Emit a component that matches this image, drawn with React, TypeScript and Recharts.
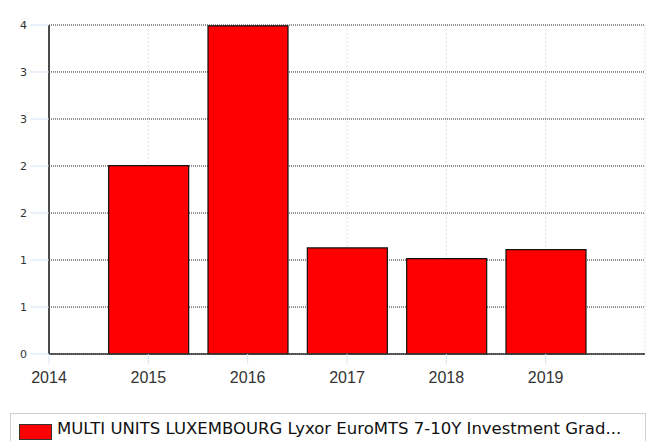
import React from "react";
import { Bar, BarChart, CartesianGrid, XAxis, YAxis } from "recharts";

const years = [2015, 2016, 2017, 2018, 2019];
const values = [2.29, 3.99, 1.29, 1.16, 1.27];
const xTicks = [2014, 2015, 2016, 2017, 2018, 2019];
const yTicks = [0, 0.571, 1.143, 1.714, 2.286, 2.857, 3.429, 4];
const yTickLabels = ["0", "1", "1", "2", "2", "3", "3", "4"];
const seriesName = "MULTI UNITS LUXEMBOURG Lyxor EuroMTS 7-10Y Investment Grad...";

const data = years.map((year, i) => ({ year, value: values[i] }));

const App = () => {
    return (
        <div style={{ position: "absolute", left: 0, top: 0, width: 652, height: 441, background: "#fff" }}>
            <BarChart
                width={652}
                height={441}
                data={data}
                margin={{ top: 25, right: 7, left: 0, bottom: 51 }}
            >
                <CartesianGrid horizontal={false} stroke="#d6e4f5" strokeDasharray="2 2" />
                <CartesianGrid vertical={false} stroke="#222" strokeDasharray="1 1" />
                <XAxis
                    dataKey="year"
                    type="number"
                    domain={[2014, 2020]}
                    ticks={xTicks}
                    interval={0}
                    height={36}
                    tickSize={10}
                    tickMargin={8}
                    tickLine={{ stroke: "#d6e4f5" }}
                    axisLine={{ stroke: "#333", strokeWidth: 1.5 }}
                    tick={{ fill: "#333", fontSize: 16, fontFamily: "Liberation Sans, Arial" }}
                />
                <YAxis
                    type="number"
                    domain={[0, 4]}
                    ticks={yTicks}
                    interval={0}
                    width={49}
                    tickSize={19}
                    tickMargin={3}
                    tickLine={{ stroke: "#d6e4f5" }}
                    axisLine={{ stroke: "#111", strokeWidth: 1.5 }}
                    tick={{ fill: "#333", fontSize: 11, fontFamily: "DejaVu Sans, Tahoma" }}
                    tickFormatter={(v, i) => yTickLabels[i]}
                />
                <Bar dataKey="value" fill="#ff0000" stroke="#111" strokeWidth={1.2} barSize={80} isAnimationActive={false} />
            </BarChart>
            <div
                style={{
                    position: "absolute",
                    left: 10,
                    top: 413,
                    width: 636,
                    height: 40,
                    border: "1px solid #d0d0d0",
                    boxSizing: "border-box",
                }}
            >
                <div style={{ position: "absolute", left: 8, top: 10, width: 31, height: 14, background: "#ff0000", border: "1px solid #333" }} />
                <div
                    style={{
                        position: "absolute",
                        left: 46,
                        top: 5,
                        whiteSpace: "nowrap",
                        fontFamily: "DejaVu Sans, Tahoma",
                        fontSize: 16.5,
                        color: "#111",
                    }}
                >
                    {seriesName}
                </div>
            </div>
        </div>
    );
};

export default App;
